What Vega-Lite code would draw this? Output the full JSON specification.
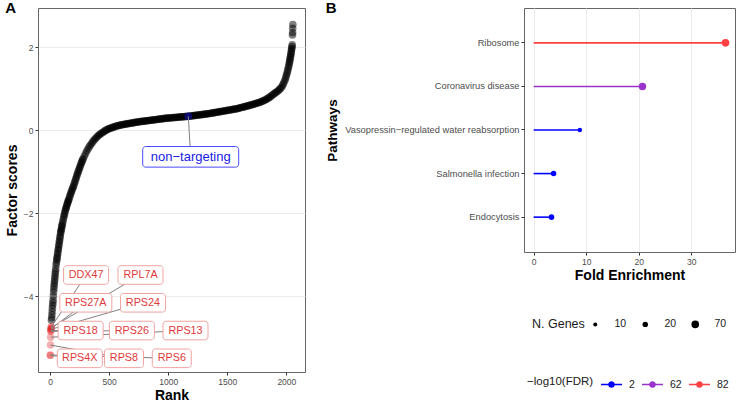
{
  "$schema": "https://vega.github.io/schema/vega-lite/v6.json",
  "background": "white",
  "padding": {"left": 4, "top": 0, "right": 1, "bottom": 2},
  "spacing": 19,
  "config": {
    "font": "Liberation Sans",
    "view": {"stroke": "#666666", "strokeWidth": 1},
    "axis": {"domain": false, "tickColor": "#333333", "tickSize": 3, "labelColor": "#4D4D4D", "labelFontSize": 8.5, "labelPadding": 2, "titleFontSize": 14, "titleFontWeight": "bold", "titleColor": "#000000", "gridColor": "#EBEBEB", "gridWidth": 1},
    "title": {"fontSize": 15, "fontWeight": "bold", "color": "#000000"}
  },
  "datasets": {
    "curve": [
      {"rank":11,"score":-4.58},{"rank":13,"score":-4.52},{"rank":15,"score":-4.45},{"rank":17,"score":-4.37},{"rank":19,"score":-4.29},{"rank":21,"score":-4.22},{"rank":23,"score":-4.16},{"rank":25,"score":-4.1},{"rank":27,"score":-4.0},{"rank":29,"score":-3.9},{"rank":31,"score":-3.83},{"rank":33,"score":-3.76},{"rank":35,"score":-3.7},{"rank":37,"score":-3.64},{"rank":39,"score":-3.58},{"rank":41,"score":-3.52},{"rank":43,"score":-3.46},{"rank":45,"score":-3.4},{"rank":47,"score":-3.34},{"rank":50,"score":-3.25},{"rank":53,"score":-3.19},{"rank":56,"score":-3.13},{"rank":58,"score":-3.09},{"rank":60,"score":-3.05},{"rank":63,"score":-2.99},{"rank":65,"score":-2.95},{"rank":68,"score":-2.89},{"rank":70,"score":-2.85},{"rank":73,"score":-2.79},{"rank":75,"score":-2.75},{"rank":78,"score":-2.69},{"rank":80,"score":-2.65},{"rank":83,"score":-2.59},{"rank":85,"score":-2.55},{"rank":88,"score":-2.49},{"rank":90,"score":-2.45},{"rank":93,"score":-2.41},{"rank":95,"score":-2.38},{"rank":98,"score":-2.33},{"rank":100,"score":-2.3},{"rank":103,"score":-2.26},{"rank":107,"score":-2.21},{"rank":111,"score":-2.15},{"rank":115,"score":-2.1},{"rank":119,"score":-2.05},{"rank":122,"score":-2.01},{"rank":126,"score":-1.96},{"rank":130,"score":-1.92},{"rank":134,"score":-1.88},{"rank":137,"score":-1.85},{"rank":141,"score":-1.81},{"rank":145,"score":-1.78},{"rank":149,"score":-1.74},{"rank":152,"score":-1.71},{"rank":156,"score":-1.68},{"rank":160,"score":-1.65},{"rank":165,"score":-1.6},{"rank":170,"score":-1.56},{"rank":175,"score":-1.52},{"rank":180,"score":-1.48},{"rank":185,"score":-1.44},{"rank":190,"score":-1.4},{"rank":195,"score":-1.37},{"rank":200,"score":-1.33},{"rank":205,"score":-1.28},{"rank":210,"score":-1.24},{"rank":215,"score":-1.19},{"rank":220,"score":-1.15},{"rank":225,"score":-1.1},{"rank":230,"score":-1.06},{"rank":235,"score":-1.02},{"rank":240,"score":-0.98},{"rank":245,"score":-0.94},{"rank":250,"score":-0.9},{"rank":255,"score":-0.86},{"rank":260,"score":-0.82},{"rank":265,"score":-0.78},{"rank":270,"score":-0.75},{"rank":275,"score":-0.71},{"rank":280,"score":-0.68},{"rank":290,"score":-0.62},{"rank":300,"score":-0.56},{"rank":310,"score":-0.5},{"rank":320,"score":-0.45},{"rank":330,"score":-0.4},{"rank":340,"score":-0.36},{"rank":350,"score":-0.32},{"rank":360,"score":-0.28},{"rank":370,"score":-0.24},{"rank":380,"score":-0.21},{"rank":390,"score":-0.18},{"rank":400,"score":-0.15},{"rank":410,"score":-0.12},{"rank":420,"score":-0.1},{"rank":430,"score":-0.08},{"rank":440,"score":-0.06},{"rank":450,"score":-0.04},{"rank":460,"score":-0.02},{"rank":470,"score":0.0},{"rank":480,"score":0.01},{"rank":490,"score":0.03},{"rank":500,"score":0.04},{"rank":510,"score":0.05},{"rank":520,"score":0.06},{"rank":530,"score":0.07},{"rank":540,"score":0.08},{"rank":550,"score":0.09},{"rank":560,"score":0.1},{"rank":570,"score":0.11},{"rank":580,"score":0.115},{"rank":590,"score":0.12},{"rank":600,"score":0.13},{"rank":610,"score":0.135},{"rank":620,"score":0.14},{"rank":630,"score":0.145},{"rank":640,"score":0.15},{"rank":650,"score":0.155},{"rank":660,"score":0.16},{"rank":670,"score":0.165},{"rank":680,"score":0.17},{"rank":690,"score":0.175},{"rank":700,"score":0.18},{"rank":710,"score":0.185},{"rank":720,"score":0.19},{"rank":730,"score":0.195},{"rank":740,"score":0.2},{"rank":750,"score":0.204},{"rank":760,"score":0.208},{"rank":770,"score":0.212},{"rank":780,"score":0.215},{"rank":790,"score":0.219},{"rank":800,"score":0.222},{"rank":810,"score":0.226},{"rank":820,"score":0.23},{"rank":830,"score":0.234},{"rank":840,"score":0.238},{"rank":850,"score":0.242},{"rank":860,"score":0.245},{"rank":870,"score":0.249},{"rank":880,"score":0.252},{"rank":890,"score":0.256},{"rank":900,"score":0.26},{"rank":910,"score":0.264},{"rank":920,"score":0.268},{"rank":930,"score":0.272},{"rank":940,"score":0.275},{"rank":950,"score":0.279},{"rank":960,"score":0.283},{"rank":970,"score":0.287},{"rank":980,"score":0.29},{"rank":990,"score":0.293},{"rank":1000,"score":0.295},{"rank":1010,"score":0.298},{"rank":1020,"score":0.3},{"rank":1030,"score":0.303},{"rank":1040,"score":0.305},{"rank":1050,"score":0.308},{"rank":1060,"score":0.31},{"rank":1070,"score":0.313},{"rank":1080,"score":0.315},{"rank":1090,"score":0.318},{"rank":1100,"score":0.32},{"rank":1110,"score":0.323},{"rank":1120,"score":0.325},{"rank":1130,"score":0.328},{"rank":1140,"score":0.33},{"rank":1150,"score":0.333},{"rank":1160,"score":0.335},{"rank":1180,"score":0.34},{"rank":1190,"score":0.344},{"rank":1200,"score":0.348},{"rank":1210,"score":0.352},{"rank":1220,"score":0.355},{"rank":1230,"score":0.359},{"rank":1240,"score":0.363},{"rank":1250,"score":0.367},{"rank":1260,"score":0.37},{"rank":1270,"score":0.374},{"rank":1280,"score":0.378},{"rank":1290,"score":0.382},{"rank":1300,"score":0.385},{"rank":1310,"score":0.389},{"rank":1320,"score":0.393},{"rank":1330,"score":0.397},{"rank":1340,"score":0.4},{"rank":1350,"score":0.405},{"rank":1360,"score":0.41},{"rank":1370,"score":0.415},{"rank":1380,"score":0.42},{"rank":1390,"score":0.425},{"rank":1400,"score":0.43},{"rank":1410,"score":0.435},{"rank":1420,"score":0.44},{"rank":1430,"score":0.445},{"rank":1440,"score":0.45},{"rank":1450,"score":0.455},{"rank":1460,"score":0.46},{"rank":1470,"score":0.465},{"rank":1480,"score":0.47},{"rank":1490,"score":0.475},{"rank":1500,"score":0.48},{"rank":1510,"score":0.485},{"rank":1520,"score":0.49},{"rank":1530,"score":0.495},{"rank":1540,"score":0.5},{"rank":1550,"score":0.505},{"rank":1560,"score":0.51},{"rank":1570,"score":0.515},{"rank":1580,"score":0.52},{"rank":1590,"score":0.527},{"rank":1600,"score":0.535},{"rank":1610,"score":0.542},{"rank":1620,"score":0.55},{"rank":1630,"score":0.557},{"rank":1640,"score":0.565},{"rank":1650,"score":0.572},{"rank":1660,"score":0.58},{"rank":1670,"score":0.587},{"rank":1680,"score":0.595},{"rank":1690,"score":0.602},{"rank":1700,"score":0.61},{"rank":1710,"score":0.619},{"rank":1720,"score":0.628},{"rank":1730,"score":0.636},{"rank":1740,"score":0.645},{"rank":1750,"score":0.654},{"rank":1760,"score":0.663},{"rank":1770,"score":0.671},{"rank":1780,"score":0.68},{"rank":1790,"score":0.692},{"rank":1800,"score":0.705},{"rank":1810,"score":0.717},{"rank":1820,"score":0.73},{"rank":1830,"score":0.747},{"rank":1840,"score":0.765},{"rank":1850,"score":0.782},{"rank":1860,"score":0.8},{"rank":1870,"score":0.823},{"rank":1880,"score":0.847},{"rank":1890,"score":0.87},{"rank":1900,"score":0.89},{"rank":1910,"score":0.91},{"rank":1920,"score":0.93},{"rank":1930,"score":0.955},{"rank":1940,"score":0.98},{"rank":1950,"score":1.01},{"rank":1960,"score":1.04},{"rank":1968,"score":1.08},{"rank":1975,"score":1.12},{"rank":1982,"score":1.17},{"rank":1990,"score":1.22},{"rank":1995,"score":1.27},{"rank":2000,"score":1.32},{"rank":2005,"score":1.37},{"rank":2010,"score":1.42},{"rank":2014,"score":1.47},{"rank":2018,"score":1.52},{"rank":2022,"score":1.57},{"rank":2025,"score":1.62},{"rank":2028,"score":1.66},{"rank":2030,"score":1.7},{"rank":2033,"score":1.74},{"rank":2035,"score":1.78},{"rank":2038,"score":1.82},{"rank":2040,"score":1.86},{"rank":2042,"score":1.9},{"rank":2044,"score":1.94},{"rank":2046,"score":1.98},{"rank":2048,"score":2.02},{"rank":2050,"score":2.06},{"rank":2052,"score":2.3},{"rank":2053,"score":2.36},{"rank":2054,"score":2.46},{"rank":2055,"score":2.55}
    ],
    "genes": [
      {"gene":"RPS4X","rank":1,"score":-5.43,"labelRank":251,"labelScore":-5.5,"kind":"target"},
      {"gene":"RPS6","rank":2,"score":-5.42,"labelRank":1030,"labelScore":-5.5,"kind":"target"},
      {"gene":"RPS8","rank":3,"score":-5.18,"labelRank":625,"labelScore":-5.5,"kind":"target"},
      {"gene":"RPS13","rank":4,"score":-4.99,"labelRank":1146,"labelScore":-4.83,"kind":"target"},
      {"gene":"RPS26","rank":5,"score":-4.85,"labelRank":692,"labelScore":-4.83,"kind":"target"},
      {"gene":"RPS18","rank":6,"score":-4.83,"labelRank":258,"labelScore":-4.83,"kind":"target"},
      {"gene":"RPS24","rank":7,"score":-4.8,"labelRank":786,"labelScore":-4.16,"kind":"target"},
      {"gene":"RPS27A","rank":8,"score":-4.78,"labelRank":302,"labelScore":-4.16,"kind":"target"},
      {"gene":"RPL7A","rank":9,"score":-4.76,"labelRank":765,"labelScore":-3.49,"kind":"target"},
      {"gene":"DDX47","rank":10,"score":-4.74,"labelRank":304,"labelScore":-3.49,"kind":"target"},
      {"gene":"non−targeting","rank":1170,"score":0.338,"labelRank":1190,"labelScore":-0.64,"kind":"control"}
    ],
    "pathways": [
      {"pathway":"Ribosome","fold":36.5,"genes":75,"fdr":82},
      {"pathway":"Coronavirus disease","fold":20.7,"genes":66,"fdr":62},
      {"pathway":"Vasopressin−regulated water reabsorption","fold":8.8,"genes":12,"fdr":2},
      {"pathway":"Salmonella infection","fold":3.8,"genes":20,"fdr":2},
      {"pathway":"Endocytosis","fold":3.4,"genes":22,"fdr":2}
    ]
  },
  "hconcat": [
    {
      "width": 267,
      "height": 364,
      "title": {"text": "A", "anchor": "start", "frame": "bounds", "offset": -8},
      "layer": [
        {
          "data": {"name": "curve"},
          "mark": {"type": "circle", "size": 58, "color": "#000000", "opacity": 0.5},
          "encoding": {
            "x": {"field": "rank", "type": "quantitative", "scale": {"domain": [-103, 2158], "nice": false, "zero": false}, "axis": {"values": [0, 500, 1000, 1500, 2000], "format": "d", "grid": false, "title": "Rank", "titlePadding": 3}},
            "y": {"field": "score", "type": "quantitative", "scale": {"domain": [-5.83, 2.95], "nice": false, "zero": false}, "axis": {"values": [-4, -2, 0, 2], "grid": true, "title": "Factor scores", "titlePadding": 4}}
          }
        },
        {
          "data": {"name": "genes"},
          "transform": [{"filter": "datum.kind == 'target'"}],
          "mark": {"type": "circle", "size": 55, "color": "#E41A1C", "opacity": 0.35},
          "encoding": {
            "x": {"field": "rank", "type": "quantitative"},
            "y": {"field": "score", "type": "quantitative"}
          }
        },
        {
          "data": {"name": "genes"},
          "transform": [{"filter": "datum.kind == 'control'"}],
          "mark": {"type": "circle", "size": 58, "color": "#0A0A6E", "opacity": 1},
          "encoding": {
            "x": {"field": "rank", "type": "quantitative"},
            "y": {"field": "score", "type": "quantitative"}
          }
        },
        {
          "data": {"name": "genes"},
          "mark": {"type": "rule", "color": "#808080", "strokeWidth": 1},
          "encoding": {
            "x": {"field": "rank", "type": "quantitative"},
            "y": {"field": "score", "type": "quantitative"},
            "x2": {"field": "labelRank"},
            "y2": {"field": "labelScore"}
          }
        },
        {
          "data": {"name": "genes"},
          "transform": [{"filter": "datum.kind == 'target' && length(datum.gene) == 5"}],
          "mark": {"type": "rect", "fill": "#FFFFFF", "stroke": "#F2A3A3", "strokeWidth": 1, "cornerRadius": 3, "xOffset": -22.5, "x2Offset": 22.5, "yOffset": -9.3, "y2Offset": 9.3},
          "encoding": {
            "x": {"field": "labelRank", "type": "quantitative"},
            "x2": {"field": "labelRank"},
            "y": {"field": "labelScore", "type": "quantitative"},
            "y2": {"field": "labelScore"}
          }
        },
        {
          "data": {"name": "genes"},
          "transform": [{"filter": "datum.kind == 'target' && length(datum.gene) == 4"}],
          "mark": {"type": "rect", "fill": "#FFFFFF", "stroke": "#F2A3A3", "strokeWidth": 1, "cornerRadius": 3, "xOffset": -19.5, "x2Offset": 19.5, "yOffset": -9.3, "y2Offset": 9.3},
          "encoding": {
            "x": {"field": "labelRank", "type": "quantitative"},
            "x2": {"field": "labelRank"},
            "y": {"field": "labelScore", "type": "quantitative"},
            "y2": {"field": "labelScore"}
          }
        },
        {
          "data": {"name": "genes"},
          "transform": [{"filter": "datum.kind == 'target' && length(datum.gene) == 6"}],
          "mark": {"type": "rect", "fill": "#FFFFFF", "stroke": "#F2A3A3", "strokeWidth": 1, "cornerRadius": 3, "xOffset": -26, "x2Offset": 26, "yOffset": -9.3, "y2Offset": 9.3},
          "encoding": {
            "x": {"field": "labelRank", "type": "quantitative"},
            "x2": {"field": "labelRank"},
            "y": {"field": "labelScore", "type": "quantitative"},
            "y2": {"field": "labelScore"}
          }
        },
        {
          "data": {"name": "genes"},
          "transform": [{"filter": "datum.kind == 'control'"}],
          "mark": {"type": "rect", "fill": "#FFFFFF", "stroke": "#4848FF", "strokeWidth": 1, "cornerRadius": 3, "xOffset": -48, "x2Offset": 48, "yOffset": -10.3, "y2Offset": 10.3},
          "encoding": {
            "x": {"field": "labelRank", "type": "quantitative"},
            "x2": {"field": "labelRank"},
            "y": {"field": "labelScore", "type": "quantitative"},
            "y2": {"field": "labelScore"}
          }
        },
        {
          "data": {"name": "genes"},
          "transform": [{"filter": "datum.kind == 'target'"}],
          "mark": {"type": "text", "color": "#E0393B", "fontSize": 10.8, "align": "center", "baseline": "middle"},
          "encoding": {
            "x": {"field": "labelRank", "type": "quantitative"},
            "y": {"field": "labelScore", "type": "quantitative"},
            "text": {"field": "gene"}
          }
        },
        {
          "data": {"name": "genes"},
          "transform": [{"filter": "datum.kind == 'control'"}],
          "mark": {"type": "text", "color": "#1A1AE6", "fontSize": 13, "align": "center", "baseline": "middle"},
          "encoding": {
            "x": {"field": "labelRank", "type": "quantitative"},
            "y": {"field": "labelScore", "type": "quantitative"},
            "text": {"field": "gene"}
          }
        }
      ]
    },
    {
      "width": 211,
      "height": 244,
      "title": {"text": "B", "anchor": "start", "frame": "bounds", "offset": -8},
      "data": {"name": "pathways"},
      "encoding": {
        "y": {"field": "pathway", "type": "nominal", "sort": ["Ribosome", "Coronavirus disease", "Vasopressin−regulated water reabsorption", "Salmonella infection", "Endocytosis"], "scale": {"padding": 0.6}, "axis": {"title": "Pathways", "labelFontSize": 9.3, "titleFontSize": 13.5, "titlePadding": 5, "grid": false}}
      },
      "layer": [
        {
          "mark": {"type": "rule", "strokeWidth": 1.6},
          "encoding": {
            "x": {"field": "fold", "type": "quantitative", "scale": {"domain": [-1.83, 38.3], "nice": false, "zero": false}, "axis": {"values": [0, 10, 20, 30], "grid": true, "title": "Fold Enrichment", "titlePadding": 3}},
            "x2": {"datum": 0},
            "color": {"field": "fdr", "type": "ordinal", "scale": {"domain": [2, 62, 82], "range": ["#0000FF", "#9A32CD", "#FF4040"]}}
          }
        },
        {
          "mark": {"type": "circle", "opacity": 1},
          "encoding": {
            "x": {"field": "fold", "type": "quantitative"},
            "size": {"field": "genes", "type": "quantitative", "scale": {"domain": [5, 10, 20, 70, 90], "range": [9, 16, 30, 57, 63]}, "legend": {"title": "N. Genes", "values": [10, 20, 70], "orient": "none", "direction": "horizontal", "titleOrient": "left", "legendX": 494, "legendY": 311, "symbolFillColor": "#000000", "symbolStrokeWidth": 0, "symbolOpacity": 1, "labelFontSize": 10.5, "titleFontSize": 12.5, "titleFontWeight": "normal", "titleColor": "#1A1A1A", "labelColor": "#1A1A1A", "labelOffset": 14, "columnPadding": 13, "titlePadding": 5}},
            "color": {"field": "fdr", "type": "ordinal", "legend": {"title": "−log10(FDR)", "orient": "none", "direction": "horizontal", "titleOrient": "left", "legendX": 489, "legendY": 366, "symbolType": "M-1,-0.07H1V0.07H-1Z M0.32,0A0.32,0.32 0 1 1 -0.32,0A0.32,0.32 0 1 1 0.32,0Z", "symbolSize": 441, "symbolStrokeWidth": 0, "symbolOpacity": 1, "labelFontSize": 10.5, "titleFontSize": 11.5, "titleFontWeight": "normal", "titleColor": "#1A1A1A", "labelColor": "#1A1A1A", "labelOffset": 7, "columnPadding": 7, "titlePadding": 7}}
          }
        }
      ]
    }
  ]
}
